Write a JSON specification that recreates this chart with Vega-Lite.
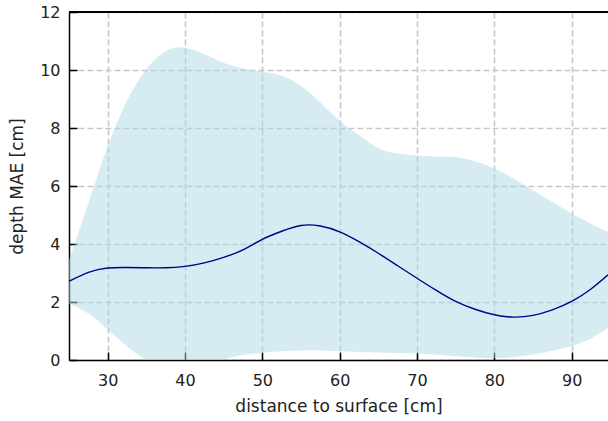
{
  "$schema": "https://vega.github.io/schema/vega-lite/v6.json",
  "width": 539,
  "height": 348,
  "autosize": "none",
  "padding": {"left": 69, "top": 12, "right": 0, "bottom": 61},
  "background": "white",
  "config": {
    "view": {"stroke": null},
    "font": "DejaVu Sans",
    "axis": {
      "labelFont": "DejaVu Sans",
      "titleFont": "DejaVu Sans",
      "labelFontSize": 16,
      "titleFontSize": 17,
      "titleFontWeight": "normal",
      "labelColor": "#222",
      "titleColor": "#222",
      "domainColor": "black",
      "domainWidth": 1.5,
      "tickColor": "black",
      "tickWidth": 1.5,
      "tickSize": -8,
      "gridColor": "#c8c8c8",
      "gridWidth": 1.6,
      "gridDash": [6, 3],
      "zindex": 1
    }
  },
  "data": {
    "values": [
      {"x": 25, "mean": 2.71, "lower": 1.94, "upper": 3.45},
      {"x": 27.5, "mean": 3.02, "lower": 1.6, "upper": 5.4},
      {"x": 30, "mean": 3.17, "lower": 1.05, "upper": 7.35},
      {"x": 32.5, "mean": 3.19, "lower": 0.48, "upper": 8.94},
      {"x": 35, "mean": 3.18, "lower": 0.0, "upper": 10.03},
      {"x": 37.5, "mean": 3.18, "lower": -0.25, "upper": 10.65},
      {"x": 40, "mean": 3.23, "lower": -0.3, "upper": 10.77},
      {"x": 42.5, "mean": 3.35, "lower": -0.15, "upper": 10.54},
      {"x": 45, "mean": 3.54, "lower": 0.03, "upper": 10.25},
      {"x": 47.5, "mean": 3.8, "lower": 0.17, "upper": 10.05},
      {"x": 50, "mean": 4.16, "lower": 0.25, "upper": 9.94},
      {"x": 52.5, "mean": 4.44, "lower": 0.3, "upper": 9.8},
      {"x": 55, "mean": 4.64, "lower": 0.33, "upper": 9.45},
      {"x": 57.5, "mean": 4.62, "lower": 0.33, "upper": 8.88},
      {"x": 60, "mean": 4.42, "lower": 0.31, "upper": 8.25},
      {"x": 62.5, "mean": 4.08, "lower": 0.28, "upper": 7.75},
      {"x": 65, "mean": 3.68, "lower": 0.26, "upper": 7.3},
      {"x": 67.5, "mean": 3.25, "lower": 0.24, "upper": 7.12},
      {"x": 70, "mean": 2.82, "lower": 0.22, "upper": 7.05},
      {"x": 72.5, "mean": 2.4, "lower": 0.18, "upper": 7.02},
      {"x": 75, "mean": 2.02, "lower": 0.13, "upper": 7.0},
      {"x": 77.5, "mean": 1.75, "lower": 0.09, "upper": 6.85},
      {"x": 80, "mean": 1.56, "lower": 0.07, "upper": 6.6},
      {"x": 82.5, "mean": 1.48, "lower": 0.1, "upper": 6.25},
      {"x": 85, "mean": 1.54, "lower": 0.19, "upper": 5.85},
      {"x": 87.5, "mean": 1.73, "lower": 0.32, "upper": 5.45},
      {"x": 90, "mean": 2.02, "lower": 0.48, "upper": 5.05},
      {"x": 92.5, "mean": 2.45, "lower": 0.75, "upper": 4.7},
      {"x": 94.7, "mean": 2.94, "lower": 1.1, "upper": 4.42}
    ]
  },
  "layer": [
    {
      "mark": {"type": "area", "color": "#add8e6", "opacity": 0.5, "interpolate": "natural", "clip": true},
      "encoding": {
        "x": {
          "field": "x", "type": "quantitative",
          "scale": {"domain": [25, 94.7], "nice": false, "zero": false},
          "axis": {"title": "distance to surface [cm]", "values": [30, 40, 50, 60, 70, 80, 90], "labelPadding": 20, "titlePadding": 10}
        },
        "y": {
          "field": "lower", "type": "quantitative",
          "scale": {"domain": [0, 12], "nice": false},
          "axis": {"title": "depth MAE [cm]", "values": [0, 2, 4, 6, 8, 10, 12], "labelPadding": 17, "titlePadding": 13}
        },
        "y2": {"field": "upper"}
      }
    },
    {
      "mark": {"type": "line", "color": "#00008b", "strokeWidth": 1.4, "interpolate": "natural", "clip": true},
      "encoding": {
        "x": {"field": "x", "type": "quantitative"},
        "y": {"field": "mean", "type": "quantitative"}
      }
    },
    {
      "mark": {"type": "rule", "color": "black", "strokeWidth": 1.5},
      "encoding": {"y": {"datum": 12}}
    }
  ]
}
